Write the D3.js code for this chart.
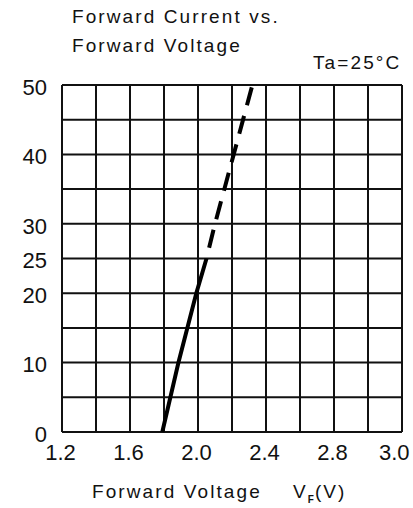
<!DOCTYPE html>
<html>
<head>
<meta charset="utf-8">
<script src="https://cdn.jsdelivr.net/npm/d3@7"></script>
<style>
  body { margin: 0; background: #fff; }
  text { font-family: "Liberation Sans", Arial, sans-serif; fill: #111; }
</style>
</head>
<body>
<script>
// data
const vfSolid = [1.79, 1.885, 1.99, 2.05]      // V
const ifSolid = [0, 10, 20, 25]                 // mA
const vfDashed = [2.05, 2.10, 2.21, 2.32]
const ifDashed = [25, 30, 40, 50]

const xTickValues = [1.2, 1.6, 2.0, 2.4, 2.8, 3.2]
const xTickLabels = ["1.2", "1.6", "2.0", "2.4", "2.8", "3.0"]
const yTickValues = [0, 10, 20, 25, 30, 40, 50]

const w = 413
const h = 508
const margin = {left: 62, top: 85, right: 11, bottom: 76}
const pw = w - margin.left - margin.right
const ph = h - margin.top - margin.bottom

const svg = d3.select("body")
  .append("svg")
  .attr("width", w)
  .attr("height", h)

const g = svg.append("g")
  .attr("transform", "translate(" + margin.left + "," + margin.top + ")")

const xScale = d3.scaleLinear().domain([1.2, 3.2]).range([0, pw])
const yScale = d3.scaleLinear().domain([0, 50]).range([ph, 0])

// grid
g.selectAll(".vgrid")
  .data(xScale.ticks(10))
  .enter()
  .append("line")
  .attr("x1", d => xScale(d))
  .attr("x2", d => xScale(d))
  .attr("y1", 0)
  .attr("y2", ph)
  .attr("stroke", "#111")
  .attr("stroke-width", 2)

g.selectAll(".hgrid")
  .data(yScale.ticks(10))
  .enter()
  .append("line")
  .attr("x1", 0)
  .attr("x2", pw)
  .attr("y1", d => yScale(d))
  .attr("y2", d => yScale(d))
  .attr("stroke", "#111")
  .attr("stroke-width", 2)

//axes, labels only
const xAxis = d3.axisBottom(xScale)
  .tickValues(xTickValues)
  .tickFormat((d, i) => xTickLabels[i])
  .tickSize(0)
  .tickPadding(12)

const gx = g.append("g")
  .attr("transform", "translate(0," + ph + ")")
  .call(xAxis)
gx.select(".domain").remove()
gx.selectAll("text")
  .style("font-size", "22px")
  .style("font-family", "'Liberation Sans', Arial, sans-serif")
  .attr("fill", "#111")
  .attr("dx", -2)
gx.selectAll(".tick:last-of-type text")
  .attr("text-anchor", "end")
  .attr("dx", 7)

const yAxis = d3.axisLeft(yScale)
  .tickValues(yTickValues)
  .tickSize(0)
  .tickPadding(15)

const gy = g.append("g").call(yAxis)
gy.select(".domain").remove()
gy.selectAll("text")
  .style("font-size", "22px")
  .style("font-family", "'Liberation Sans', Arial, sans-serif")
  .attr("fill", "#111")
  .attr("dy", "0.42em")

// curve
const line = d3.line()
  .x(d => xScale(d[0]))
  .y(d => yScale(d[1]))

g.append("path")
  .datum(vfSolid.map((v, i) => [v, ifSolid[i]]))
  .attr("d", line)
  .attr("fill", "none")
  .attr("stroke", "#000")
  .attr("stroke-width", 4)

g.append("path")
  .datum(vfDashed.map((v, i) => [v, ifDashed[i]]))
  .attr("d", line)
  .attr("fill", "none")
  .attr("stroke", "#000")
  .attr("stroke-width", 4)
  .attr("stroke-dasharray", "18.5,11")
  .attr("stroke-dashoffset", 18.5)

// texts
const txt = (x, y, s) => svg.append("text")
  .attr("x", x)
  .attr("y", y)
  .style("font-size", "19px")
  .style("letter-spacing", "2.1px")
  .text(s)

txt(72, 22.5, "Forward Current vs.")
txt(72, 51.5, "Forward Voltage")
txt(313, 69, "Ta=25\u00b0C")
txt(92, 498, "Forward Voltage")

const vf = txt(293, 498, "V")
vf.append("tspan")
  .attr("dy", 5)
  .style("font-size", "10px")
  .style("font-weight", "bold")
  .style("letter-spacing", "1px")
  .text("F")
vf.append("tspan")
  .attr("dy", -5)
  .text("(V)")
</script>
</body>
</html>
